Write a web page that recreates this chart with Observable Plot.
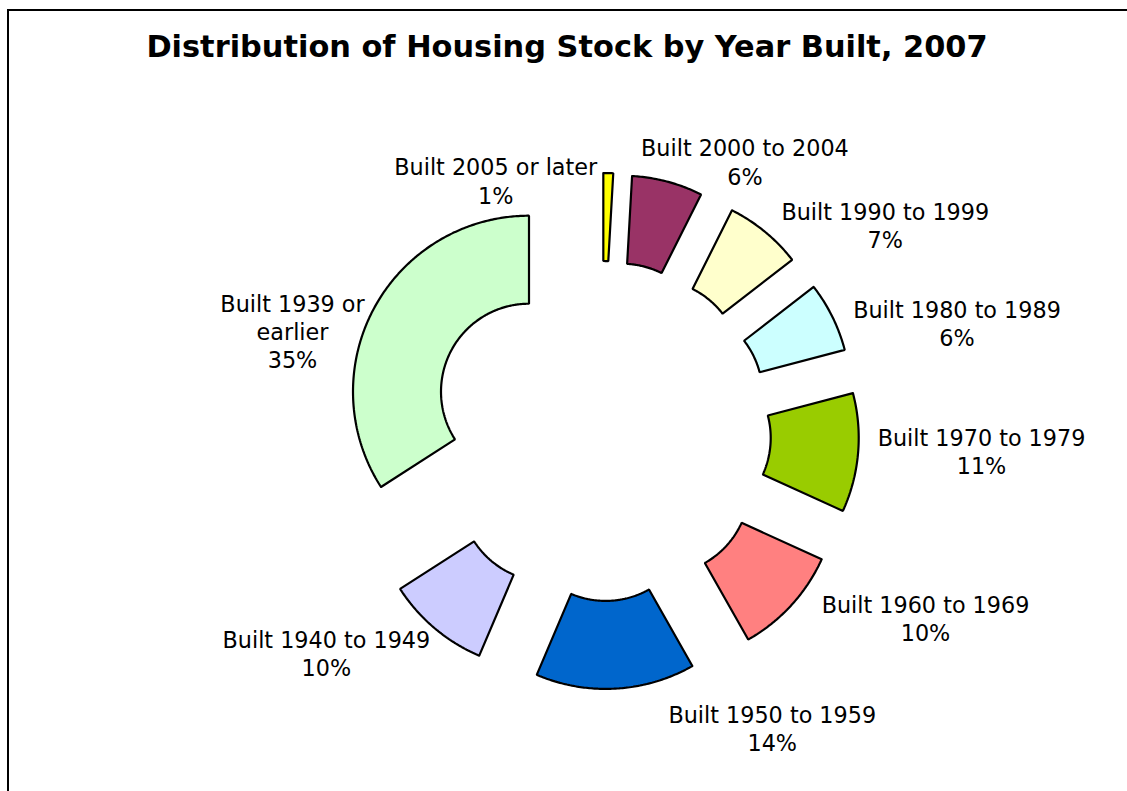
<!DOCTYPE html>
<html><head><meta charset="utf-8">
<script src="https://cdn.jsdelivr.net/npm/d3@7"></script>
<script src="https://cdn.jsdelivr.net/npm/@observablehq/plot@0.6"></script>
<style>
html,body{margin:0;padding:0;background:#fff;overflow:hidden;width:1127px;height:791px}
#frame{position:absolute;left:7px;top:9px;width:1300px;height:1000px;border-left:2px solid #000;border-top:2px solid #000;}
#title{position:absolute;left:0;top:32px;width:1134px;text-align:center;font-family:"DejaVu Sans";font-weight:bold;font-size:30.4px;line-height:30px;color:#000;white-space:nowrap}
#chart{position:absolute;left:0;top:100px}
</style></head><body>
<div id="frame"></div>
<div id="title">Distribution of Housing Stock by Year Built, 2007</div>
<div id="chart"></div>
<script>
// Data (clockwise from 12 o'clock)
const categories = ["Built 2005 or later", "Built 2000 to 2004", "Built 1990 to 1999", "Built 1980 to 1989",
  "Built 1970 to 1979", "Built 1960 to 1969", "Built 1950 to 1959", "Built 1940 to 1949", "Built 1939 or earlier"];
const labelNames = ["Built 2005 or later", "Built 2000 to 2004", "Built 1990 to 1999", "Built 1980 to 1989",
  "Built 1970 to 1979", "Built 1960 to 1969", "Built 1950 to 1959", "Built 1940 to 1949", "Built 1939 or\nearlier"];
const shares = [0.9, 6.5, 7.1, 6.4, 10.9, 10.0, 14.6, 9.5, 34.1];
const percentLabels = ["1%", "6%", "7%", "6%", "11%", "10%", "14%", "10%", "35%"];
const colors = ["#FFFF00", "#993366", "#FFFFCC", "#CCFFFF", "#99CC00", "#FF8080", "#0066CC", "#CCCCFF", "#CCFFCC"];
// manual label placement of the original (polar: degrees clockwise from top, distance in outer radii)
const labelAngle = [337.2, 28.1, 54.1, 73.1, 93.0, 120.0, 150.0, 231.1, 288.0];
const labelDistance = [1.544, 1.736, 1.994, 2.114, 2.165, 2.129, 1.946, 2.005, 1.843];

const holeRatio = 0.5;
const explode = 0.466;

const W = 1127, H = 691, R = 176, cx = 600.5, cy = 330.5;
const total = d3.sum(shares);
const ends = d3.cumsum(shares);
const rad = d => d * Math.PI / 180;

const marks = [];
categories.forEach((c, i) => {
  const a0 = (ends[i] - shares[i]) / total * 2 * Math.PI;
  const a1 = ends[i] / total * 2 * Math.PI;
  const m = (a0 + a1) / 2;
  const ox = explode * Math.sin(m), oy = explode * Math.cos(m);
  const n = Math.max(4, Math.ceil((a1 - a0) / 0.01));
  const pts = [];
  for (let k = 0; k <= n; k++) { const a = a0 + (a1 - a0) * k / n; pts.push({x: ox + Math.sin(a), y: oy + Math.cos(a)}); }
  for (let k = n; k >= 0; k--) { const a = a0 + (a1 - a0) * k / n; pts.push({x: ox + holeRatio * Math.sin(a), y: oy + holeRatio * Math.cos(a)}); }
  pts.push(pts[0]);
  marks.push(Plot.line(pts, {x: "x", y: "y", fill: colors[i], stroke: "#000", strokeWidth: 2.2, strokeLinejoin: "miter", curve: "linear"}));
});

const labels = categories.map((c, i) => ({
  text: labelNames[i] + "\n" + percentLabels[i],
  x: labelDistance[i] * Math.sin(rad(labelAngle[i])),
  y: labelDistance[i] * Math.cos(rad(labelAngle[i]))
}));
marks.push(Plot.text(labels, {x: "x", y: "y", text: "text", fill: "#000", fontSize: 22.3, lineHeight: 1.26, textAnchor: "middle", lineAnchor: "middle"}));

const chart = Plot.plot({
  width: W, height: H,
  margin: 0,
  x: {domain: [-cx / R, (W - cx) / R], range: [0, W], axis: null},
  y: {domain: [-(H - cy) / R, cy / R], range: [H, 0], axis: null},
  style: {fontFamily: "DejaVu Sans", fontSize: "22px", background: "transparent", overflow: "visible"},
  marks
});
document.getElementById("chart").appendChild(chart);
</script>
</body></html>
